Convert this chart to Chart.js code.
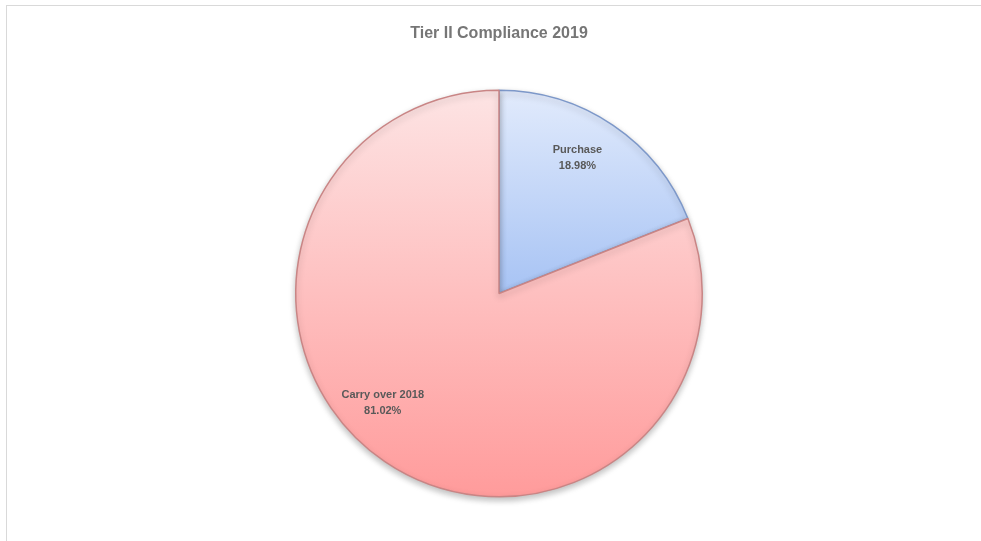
<!DOCTYPE html>
<html>
<head>
<meta charset="utf-8">
<script src="https://cdn.jsdelivr.net/npm/chart.js@4/dist/chart.umd.min.js"></script>
<style>
  html, body { margin: 0; padding: 0; background: #fff; overflow: hidden; }
  #frame { position: absolute; left: 6px; top: 5px; width: 990px; height: 560px; border: 1px solid #d9d9d9; }
  #wrap { position: absolute; left: 0; top: 0; width: 981px; height: 541px; }
</style>
</head>
<body>
<div id="frame"></div>
<div id="wrap"><canvas id="pieChart"></canvas></div>
<script>
// Chart data
const categories = ['Purchase', 'Carry over 2018'];
const shares = [18.98, 81.02];
const chartTitle = 'Tier II Compliance 2019';

// Vertical gradient per slice (top colour, bottom colour)
const gradTop = ['#e2ebfc', '#fde4e4'];
const gradBottom = ['#a7c3f4', '#ff9b9b'];
const borderColors = ['#7d98c9', '#c98585'];

// small angle nudges (deg) so labels sit where Excel put them
const labelShift = [-4.5, 13];

function sliceGradient(context) {
    const chart = context.chart;
    const i = context.dataIndex;
    const area = chart.chartArea;
    if (!area) return gradTop[i];
    const cy = (area.top + area.bottom) / 2;
    const y1 = i === 0 ? cy : area.bottom;
    const g = chart.ctx.createLinearGradient(0, area.top, 0, y1);
    g.addColorStop(0, gradTop[i]);
    g.addColorStop(1, gradBottom[i]);
    return g;
}

// soft shadow under the pie
const shadowPlugin = {
    id: 'pieShadow',
    beforeDatasetsDraw(chart) {
        const ctx = chart.ctx;
        ctx.save();
        ctx.shadowColor = 'rgba(0,0,0,0.25)';
        ctx.shadowBlur = 6;
        ctx.shadowOffsetY = 3;
    },
    afterDatasetsDraw(chart) {
        chart.ctx.restore();
    }
};

// labels inside the slices
const labelPlugin = {
    id: 'sliceLabels',
    afterDraw(chart) {
        const ctx = chart.ctx;
        const meta = chart.getDatasetMeta(0);
        ctx.save();
        ctx.fillStyle = '#595959';
        ctx.font = 'bold 11px "Liberation Sans", Arial, sans-serif';
        ctx.textAlign = 'center';
        ctx.textBaseline = 'middle';
        meta.data.forEach((arc, i) => {
            const mid = (arc.startAngle + arc.endAngle) / 2 + labelShift[i] * Math.PI / 180;
            const r = arc.outerRadius * 0.78;
            const x = arc.x + Math.cos(mid) * r;
            const y = arc.y + Math.sin(mid) * r;
            ctx.fillText(categories[i], x, y - 6);
            ctx.fillText(shares[i].toFixed(2) + '%', x, y + 10);
        });
        ctx.restore();
    }
};

const ctx = document.getElementById('pieChart').getContext('2d');

const pieChart = new Chart(ctx, {
    type: 'pie',
    data: {
        labels: categories,
        datasets: [{
            data: shares,
            backgroundColor: sliceGradient,
            borderColor: borderColors,
            borderWidth: 1.5
        }]
    },
    options: {
        responsive: true,
        maintainAspectRatio: false,
        animation: false,
        layout: {
            padding: { left: 295, right: 278, top: 0, bottom: 43 }
        },
        plugins: {
            legend: { display: false },
            tooltip: { enabled: false },
            title: {
                display: true,
                text: chartTitle,
                color: '#767676',
                font: { family: '"Liberation Sans", Arial, sans-serif', size: 16, weight: 'bold' },
                padding: { top: 24, bottom: 45.8 }
            }
        }
    },
    plugins: [shadowPlugin, labelPlugin]
});
</script>
</body>
</html>
